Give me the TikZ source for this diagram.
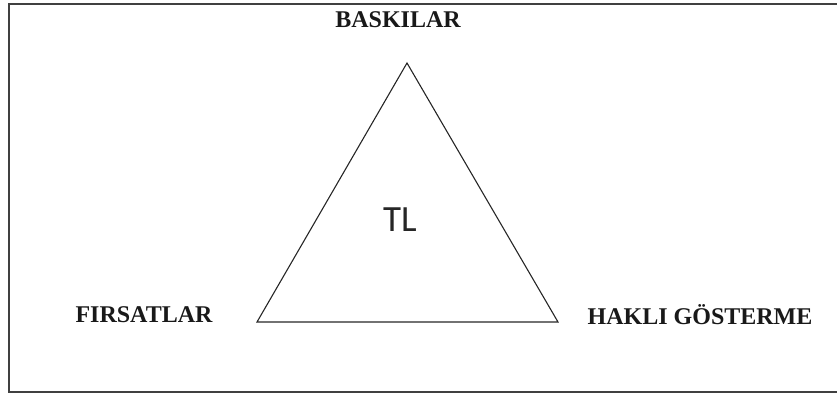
\documentclass[tikz,border=0pt]{standalone}
\usepackage{fontspec}
\setmainfont{Liberation Serif}
\newfontfamily\tlfont{Carlito}
\usetikzlibrary{positioning}
\definecolor{frameGray}{HTML}{404040}
\tikzset{
  framebox/.style={draw=frameGray, line width=2pt},
  triline/.style={draw=black!85, line width=1.1pt, line join=miter},
  forcelabel/.style={font=\fontsize{24}{26}\selectfont\bfseries, text=black!90, inner sep=0pt},
  centerlabel/.style={font=\tlfont\fontsize{37}{40}\selectfont, text=black!85, inner sep=0pt}
}
\begin{document}
\begin{tikzpicture}[x=1pt, y=-1pt]
  \useasboundingbox (0,0) rectangle (837,396);
  \clip (0,0) rectangle (837,396);
  % outer frame
  \draw[framebox] (850,4.5) -- (8.5,4.5) -- (8.5,391.5) -- (850,391.5);
  % triangle corners
  \coordinate (top) at (407,63);
  \coordinate (left) at (257,322);
  \coordinate (right) at (558,322);
  \draw[triline] (top) -- (left) -- (right) -- cycle;
  % labels
  \node[forcelabel] (bask) at (398,20) {BASKILAR};
  \node[forcelabel] (firs) at (144,315) {FIRSATLAR};
  \node[forcelabel] (hakl) at (700,315) {HAKLI GÖSTERME};
  \node[centerlabel] (tl) at (400,220) {TL};
\end{tikzpicture}
\end{document}
